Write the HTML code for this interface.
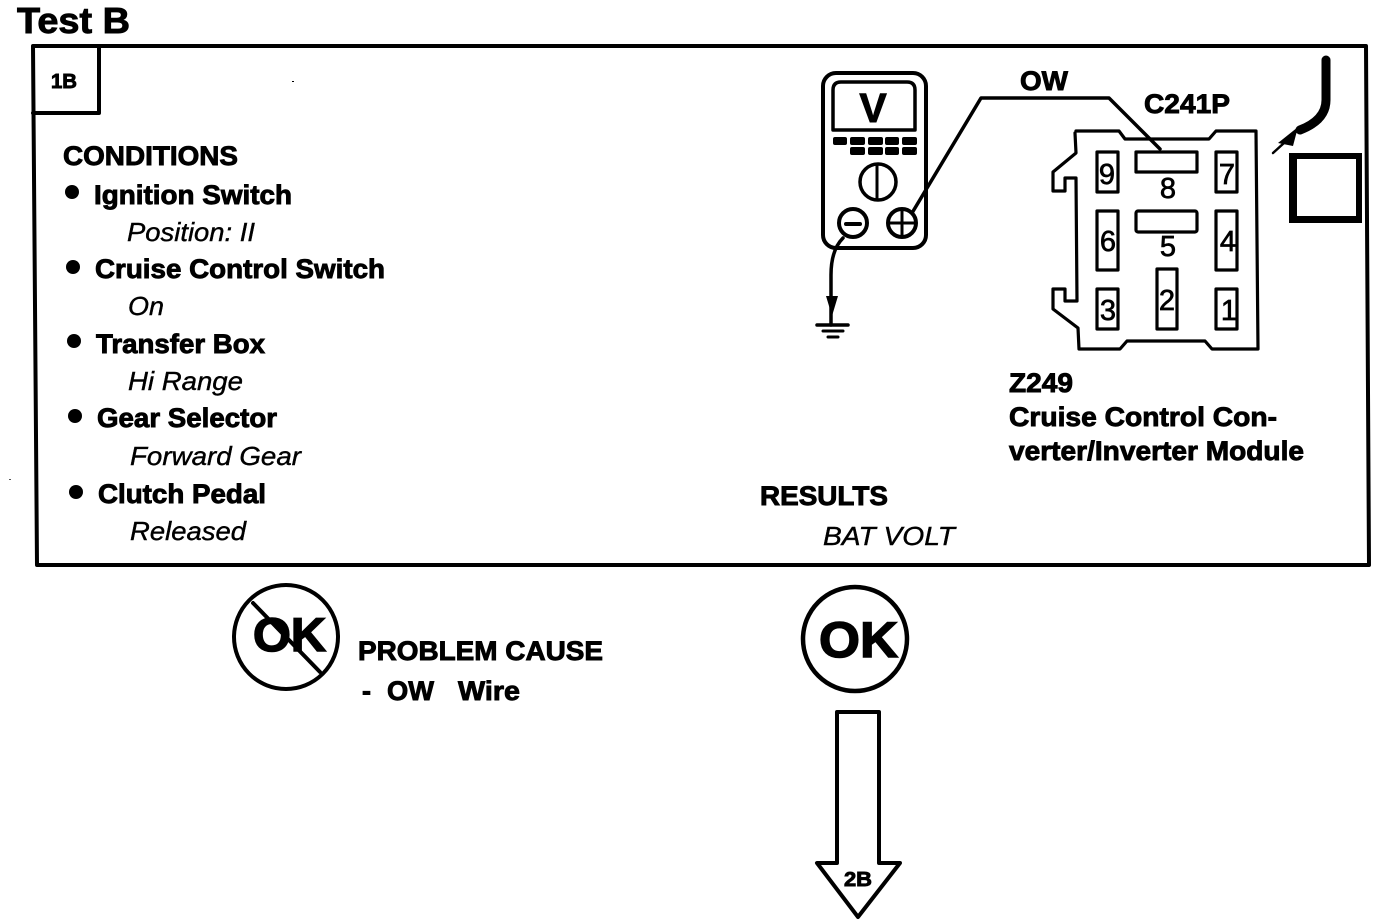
<!DOCTYPE html>
<html><head><meta charset="utf-8"><title>Test B</title>
<style>
html,body{margin:0;padding:0;background:#fff;width:1376px;height:924px;overflow:hidden}
svg{display:block}
text{font-family:"Liberation Sans",Arial,sans-serif;fill:#000}
.b{font-weight:700;font-size:27px;stroke:#000;stroke-width:.9px}
.i{font-style:italic;font-size:26px;stroke:#000;stroke-width:.4px}
.n{font-size:29px;text-anchor:middle;stroke:#000;stroke-width:.7px}
.l{fill:none;stroke:#000;stroke-linejoin:round;stroke-linecap:round}
</style></head><body>
<svg width="1376" height="924" viewBox="0 0 1376 924" xmlns="http://www.w3.org/2000/svg">
<rect width="1376" height="924" fill="#fff"/>
<text class="b" x="17" y="33" style="font-size:36px" textLength="113" lengthAdjust="spacingAndGlyphs">Test B</text>

<!-- frame -->
<path class="l" d="M33 46H1366L1369 565H37Z" stroke-width="4"/>
<path class="l" d="M33 113H99V46" stroke-width="4"/>
<text class="b" x="51" y="88" style="font-size:20px" textLength="26" lengthAdjust="spacingAndGlyphs">1B</text>
<rect x="292" y="81" width="2" height="1" fill="#000"/>
<rect x="9" y="479" width="2" height="1" fill="#555"/>

<!-- conditions -->
<text class="b" x="63" y="165" textLength="175" lengthAdjust="spacingAndGlyphs">CONDITIONS</text>
<g fill="#000"><circle cx="72" cy="192" r="7"/><circle cx="73" cy="267" r="7"/><circle cx="74" cy="341" r="7"/><circle cx="75" cy="416" r="7"/><circle cx="76" cy="492" r="7"/></g>
<text class="b" x="94" y="204" textLength="198" lengthAdjust="spacingAndGlyphs">Ignition Switch</text>
<text class="i" x="127" y="241" textLength="128" lengthAdjust="spacingAndGlyphs">Position: II</text>
<text class="b" x="95" y="278" textLength="290" lengthAdjust="spacingAndGlyphs">Cruise Control Switch</text>
<text class="i" x="128" y="315" textLength="36" lengthAdjust="spacingAndGlyphs">On</text>
<text class="b" x="96" y="353" textLength="169" lengthAdjust="spacingAndGlyphs">Transfer Box</text>
<text class="i" x="128" y="390" textLength="115" lengthAdjust="spacingAndGlyphs">Hi Range</text>
<text class="b" x="97" y="427" textLength="180" lengthAdjust="spacingAndGlyphs">Gear Selector</text>
<text class="i" x="130" y="465" textLength="171" lengthAdjust="spacingAndGlyphs">Forward Gear</text>
<text class="b" x="98" y="503" textLength="168" lengthAdjust="spacingAndGlyphs">Clutch Pedal</text>
<text class="i" x="130" y="540" textLength="116" lengthAdjust="spacingAndGlyphs">Released</text>

<text class="b" x="760" y="505" textLength="128" lengthAdjust="spacingAndGlyphs">RESULTS</text>
<text class="i" x="823" y="545" textLength="132" lengthAdjust="spacingAndGlyphs">BAT VOLT</text>

<text class="b" x="1009" y="392" textLength="64" lengthAdjust="spacingAndGlyphs">Z249</text>
<text class="b" x="1009" y="426" textLength="268" lengthAdjust="spacingAndGlyphs">Cruise Control Con-</text>
<text class="b" x="1009" y="460" textLength="295" lengthAdjust="spacingAndGlyphs">verter/Inverter Module</text>

<!-- multimeter -->
<rect class="l" x="823" y="73" width="103" height="175" rx="13" stroke-width="4"/>
<path class="l" d="M833 130V90Q833 82 841 82H907Q915 82 915 90V130Z" stroke-width="3.5"/>
<text class="b" x="873" y="122" text-anchor="middle" style="font-size:41px">V</text>
<g fill="#000">
<rect x="833" y="137" width="14" height="8" rx="2"/><rect x="850" y="137" width="15" height="8" rx="2"/><rect x="868" y="137" width="15" height="8" rx="2"/><rect x="885" y="137" width="14" height="8" rx="2"/><rect x="902" y="137" width="15" height="8" rx="2"/>
<rect x="850" y="147" width="15" height="8" rx="2"/><rect x="868" y="147" width="15" height="8" rx="2"/><rect x="885" y="147" width="14" height="8" rx="2"/><rect x="902" y="147" width="15" height="8" rx="2"/>
</g>
<circle class="l" cx="878" cy="182" r="18" stroke-width="3.5"/>
<path class="l" d="M877 165V199" stroke-width="3"/>
<circle class="l" cx="853" cy="223" r="14" stroke-width="4"/>
<path class="l" d="M846 224H860" stroke-width="4"/>
<circle class="l" cx="902" cy="223" r="14" stroke-width="4"/>
<path class="l" d="M889 223H915M902 210V236" stroke-width="3"/>
<path class="l" d="M912 213L981 98H1109L1160 149" stroke-width="3.5"/>
<path class="l" d="M843 238Q831 250 831 275V325" stroke-width="3.5"/>
<path d="M826 296H838L832 316Z" fill="#000"/>
<path class="l" d="M817 325H848" stroke-width="3.5"/>
<path class="l" d="M823 331H843" stroke-width="3"/>
<path class="l" d="M828 337H838" stroke-width="3"/>
<text class="b" x="1020" y="90" textLength="48" lengthAdjust="spacingAndGlyphs">OW</text>
<text class="b" x="1144" y="113" textLength="86" lengthAdjust="spacingAndGlyphs">C241P</text>

<!-- connector -->
<path class="l" stroke-width="3.2" d="M1076 131H1119L1125 139H1209L1216 131H1256L1258 349H1212L1205 341H1127L1120 349H1079L1078 328L1053 309V289H1065V301H1077L1076 178H1065V191H1053V172L1076 153L1075 133"/>
<g class="l" stroke-width="3.2">
<rect class="l" x="1097" y="152" width="21" height="40"/>
<rect class="l" x="1216" y="152" width="21" height="40"/>
<rect class="l" x="1136" y="152" width="61" height="20"/>
<rect class="l" x="1136" y="211" width="61" height="21" rx="2"/>
<rect class="l" x="1097" y="211" width="21" height="59"/>
<rect class="l" x="1216" y="211" width="21" height="59"/>
<rect class="l" x="1097" y="289" width="21" height="40"/>
<rect class="l" x="1216" y="289" width="21" height="40"/>
<rect class="l" x="1157" y="269" width="20" height="60"/>
</g>
<text class="n" x="1107" y="184">9</text>
<text class="n" x="1227" y="184">7</text>
<text class="n" x="1168" y="198">8</text>
<text class="n" x="1168" y="256">5</text>
<text class="n" x="1108" y="251">6</text>
<text class="n" x="1228" y="251">4</text>
<text class="n" x="1108" y="320">3</text>
<text class="n" x="1167" y="310">2</text>
<text class="n" x="1229" y="320">1</text>

<!-- cable / box -->
<path class="l" d="M1326 60V100Q1326 120 1300 130" stroke-width="9"/>
<path class="l" d="M1273 153L1295 133" stroke-width="2.5"/>
<path d="M1278 143L1298 127L1293 146Z" fill="#000"/>
<path fill="#000" fill-rule="evenodd" d="M1289 153H1362V223H1289ZM1297 159V216H1356V159Z"/>

<!-- OK symbols -->
<circle class="l" cx="286" cy="637" r="52" stroke-width="4"/>
<path class="l" d="M253 603L320 672" stroke-width="4"/>
<text class="b" x="253" y="651" style="font-size:47px;stroke-width:1.500px" textLength="73" lengthAdjust="spacingAndGlyphs">OK</text>
<circle class="l" cx="855" cy="639" r="52" stroke-width="4.500"/>
<text class="b" x="819" y="657" style="font-size:50px;stroke-width:1.500px" textLength="79" lengthAdjust="spacingAndGlyphs">OK</text>

<text class="b" x="358" y="660" textLength="245" lengthAdjust="spacingAndGlyphs">PROBLEM CAUSE</text>
<text class="b" x="362" y="700">-</text>
<text class="b" x="387" y="700" textLength="47" lengthAdjust="spacingAndGlyphs">OW</text>
<text class="b" x="458" y="700" textLength="62" lengthAdjust="spacingAndGlyphs">Wire</text>

<!-- arrow -->
<path class="l" d="M837 712H879V863H900L858 917L817 863H837Z" stroke-width="4"/>
<text class="b" x="844" y="886" style="font-size:20px" textLength="28" lengthAdjust="spacingAndGlyphs">2B</text>
</svg>
</body></html>
